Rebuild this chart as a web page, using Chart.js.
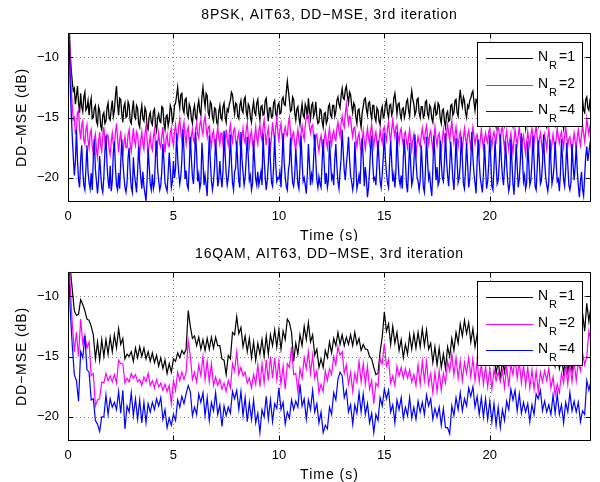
<!DOCTYPE html>
<html><head><meta charset="utf-8">
<script src="https://cdn.jsdelivr.net/npm/chart.js@4.4.0/dist/chart.umd.min.js"></script>
<style>
html,body{margin:0;padding:0;background:#fff;}
#wrap{position:relative;width:600px;height:482px;overflow:hidden;}
canvas{position:absolute;left:0;}
</style></head><body>
<div id="wrap">
<canvas id="c1" width="600" height="241" style="top:0;width:600px;height:241px"></canvas>
<canvas id="c2" width="600" height="241" style="top:241px;width:600px;height:241px"></canvas>
</div>
<script>
// ---- data ----
const DT_PSK = 0.05;                  // sample spacing of the 8PSK traces (s)
const DT_QAM = 0.1;                   // sample spacing of the 16QAM traces (s)
const xTicks = [0, 5, 10, 15, 20];
const yTicks = [-20, -15, -10];
const legendLabels = ['1', '2', '4'];
const titles = ['8PSK, AIT63, DD\u2212MSE, 3rd iteration', '16QAM, AIT63, DD\u2212MSE, 3rd iteration'];
const xLabel = 'Time (s)';
const yLabel = 'DD\u2212MSE (dB)';

const psk_nr1 = [
-5,-7,-9.5,-11,-12.0,-12.8,-12.6,-13.9,-13.2,-12.4,-13.8,-14.6,-13.0,-14.1,-14.5,-13.3,-12.9,-14.4,-14.2,-13.6,
-14.8,-13.9,-13.4,-15.1,-15.0,-14.2,-14.0,-15.3,-15.6,-14.1,-14.4,-15.7,-16.0,-14.8,-14.6,-15.5,-15.3,-14.2,-13.8,-15.0,
-15.2,-14.3,-13.6,-14.9,-14.4,-13.2,-12.4,-13.9,-14.8,-13.4,-13.5,-14.7,-15.4,-14.1,-13.8,-15.0,-14.9,-13.7,-14.0,-15.3,
-15.5,-14.4,-13.6,-14.9,-15.1,-14.0,-14.2,-15.5,-15.8,-14.6,-14.0,-15.1,-15.3,-14.2,-14.5,-15.8,-16.0,-14.9,-14.6,-15.4,
-15.6,-14.5,-14.3,-15.6,-16.1,-15.0,-14.7,-15.3,-15.4,-14.1,-14.2,-15.5,-16.0,-14.9,-14.8,-15.7,-15.2,-14.0,-14.3,-15.4,
-15.1,-14.0,-13.8,-13.2,-12.5,-13.6,-14.2,-13.1,-13.0,-14.3,-14.6,-13.5,-13.4,-14.7,-15.0,-13.9,-14.2,-15.1,-15.5,-14.4,
-14.0,-15.0,-15.2,-14.1,-13.6,-14.5,-14.8,-13.3,-12.5,-13.4,-14.1,-13.0,-13.2,-14.6,-14.9,-13.7,-13.9,-15.0,-15.3,-14.2,
-14.3,-15.4,-15.6,-14.5,-14.0,-15.0,-15.2,-14.1,-13.8,-14.9,-15.4,-14.3,-14.5,-13.9,-13.6,-12.9,-13.1,-14.0,-14.7,-13.8,
-13.9,-14.9,-15.1,-14.0,-13.6,-14.4,-14.6,-13.5,-13.3,-14.5,-15.0,-13.9,-14.1,-15.0,-15.4,-14.3,-13.7,-14.6,-14.8,-13.8,
-13.5,-14.6,-15.2,-14.1,-14.0,-14.8,-14.7,-13.6,-13.4,-14.5,-15.3,-14.2,-14.2,-15.0,-14.9,-13.8,-13.6,-14.7,-15.0,-14.0,
-13.8,-14.7,-14.6,-13.5,-13.3,-13.9,-14.0,-12.9,-12.0,-12.8,-13.6,-14.5,-14.4,-13.3,-13.5,-14.6,-15.2,-14.3,-14.1,-15.0,
-15.6,-14.6,-13.9,-14.8,-15.0,-13.9,-14.2,-15.1,-13.4,-14.4,-15.1,-14.0,-13.8,-14.9,-14.6,-13.7,-14.9,-15.5,-15.4,-14.3,
-14.4,-15.3,-15.8,-14.7,-14.6,-15.5,-15.2,-14.1,-13.9,-14.8,-15.0,-14.0,-14.0,-14.9,-14.5,-13.6,-13.3,-13.9,-14.2,-13.2,
-12.6,-13.4,-13.5,-12.7,-12.4,-13.2,-13.8,-12.9,-13.1,-14.0,-14.6,-13.8,-14.0,-15.0,-15.5,-14.4,-14.3,-15.2,-15.8,-14.6,
-14.1,-13.5,-13.4,-14.3,-14.8,-13.8,-13.7,-14.6,-15.1,-14.0,-14.0,-15.0,-15.3,-14.2,-14.4,-15.3,-15.6,-14.5,-14.1,-15.0,
-14.8,-13.9,-13.6,-14.6,-15.0,-14.0,-13.9,-14.8,-14.5,-13.4,-13.0,-13.8,-14.7,-13.9,-13.8,-14.7,-15.1,-14.3,-14.2,-15.0,
-14.6,-13.7,-13.5,-14.4,-14.9,-13.6,-12.8,-13.5,-13.9,-14.8,-14.5,-13.5,-13.4,-14.6,-15.0,-14.1,-14.1,-15.0,-14.8,-13.7,
-13.6,-14.7,-15.0,-14.0,-14.2,-15.1,-15.4,-14.3,-13.9,-14.8,-14.7,-13.8,-14.0,-15.1,-15.5,-14.4,-14.3,-15.3,-15.8,-14.7,
-14.5,-15.3,-15.2,-14.0,-13.9,-14.8,-14.6,-13.6,-13.5,-14.6,-14.9,-13.6,-12.7,-13.6,-14.1,-13.3,-13.6,-14.6,-15.0,-14.0,
-14.2,-13.6,-13.4,-13.0,-12.8,-13.7,-14.4,-13.5,-13.6,-14.6,-15.1,-14.1,-14.0,-15.0,-15.4,-14.3,-14.3,-15.2,-15.0,-14.0,
-14.1,-15.1,-15.5,-14.5,-14.4,-15.4,-15.8,-14.7,-14.6,-15.5,-15.2,-14.1,-14.0,-15.0,-15.6,-14.6,-14.5,-15.4,-15.3,-14.2,
-14.2,-15.2,-15.7,-14.7,-14.8,-15.6,-15.4,-14.3,-14.1,-15.0,-15.0,-13.9,-14.3,-15.2,-15.9,-14.8,-14.6,-15.5,-15.2,-14.1,
-14.0,-14.9,-15.3,-14.3,-14.4,-15.4,-15.7,-14.6,-14.2,-15.0,-15.1,-14.0,-14.5,-15.5,-15.8,-14.7,-14.7,-15.6,-15.4,-14.3,
-14.3,-15.2,-15.6,-14.5,-14.1,-15.0,-15.2,-14.1,-14.4,-15.3,-15.9,-14.8,-14.6,-15.4,-15.3,-14.2,-14.2,-15.1,-15.5,-14.4,
-14.4,-15.3,-15.2,-14.1,-13.9,-14.7,-14.8,-13.7,-13.5,-14.4,-14.6,-13.5,-13.3,-14.2,-14.4,-13.6,-13.8];

const psk_nr2 = [
-5,-7.5,-10.5,-12.5,-14.0,-15.2,-15.0,-16.3,-16.2,-14.6,-14.4,-16.0,-16.8,-15.6,-15.3,-16.9,-17.2,-16.0,-15.6,-16.9,
-17.5,-16.3,-16.0,-17.4,-18.0,-16.8,-16.4,-17.7,-18.3,-17.0,-16.2,-17.3,-17.8,-16.5,-15.8,-17.0,-17.6,-16.4,-16.5,-17.6,
-18.1,-17.0,-16.3,-17.2,-17.4,-16.2,-15.5,-16.7,-17.9,-16.9,-16.1,-17.3,-18.2,-17.1,-16.6,-17.5,-17.5,-16.4,-16.0,-17.2,
-17.8,-16.8,-15.9,-16.9,-17.3,-16.2,-16.4,-17.5,-18.0,-16.9,-16.2,-17.1,-17.6,-16.4,-15.7,-16.8,-18.1,-17.2,-16.5,-17.4,
-17.7,-16.6,-16.0,-17.3,-18.2,-17.1,-16.3,-17.2,-17.5,-16.5,-15.8,-17.0,-17.9,-16.8,-16.4,-17.3,-17.4,-16.3,-15.9,-16.9,
-17.3,-16.2,-15.6,-16.5,-16.8,-15.7,-15.1,-16.2,-16.9,-15.9,-15.4,-16.5,-17.2,-16.1,-15.8,-16.9,-17.5,-16.5,-16.0,-16.9,
-17.1,-16.0,-15.5,-16.4,-16.7,-15.6,-15.2,-16.0,-16.4,-15.3,-14.9,-15.9,-16.6,-15.8,-15.7,-16.8,-17.4,-16.4,-16.1,-17.0,
-17.6,-16.5,-15.8,-16.7,-17.2,-16.3,-16.3,-17.3,-17.9,-16.9,-16.0,-16.9,-17.3,-16.2,-15.6,-16.5,-17.0,-16.1,-15.9,-16.9,
-17.5,-16.6,-16.2,-17.2,-17.8,-16.7,-15.9,-16.8,-17.1,-16.0,-15.5,-16.6,-17.4,-16.5,-16.1,-17.1,-17.7,-16.6,-15.8,-16.7,
-17.2,-16.1,-15.6,-16.5,-16.9,-15.8,-15.2,-16.4,-17.3,-16.4,-15.9,-16.9,-17.6,-16.5,-15.4,-16.3,-16.8,-15.8,-15.1,-16.2,
-16.9,-16.0,-15.5,-16.6,-17.2,-16.2,-15.8,-16.4,-16.5,-15.5,-15.0,-16.2,-17.1,-16.4,-16.2,-17.2,-17.7,-16.7,-16.0,-16.9,
-17.4,-16.3,-15.7,-16.4,-16.8,-15.7,-15.0,-14.8,-14.9,-15.8,-16.3,-15.7,-15.6,-16.6,-17.2,-16.5,-16.4,-17.3,-17.8,-16.9,
-16.5,-17.4,-17.9,-16.8,-16.2,-17.0,-17.5,-16.5,-15.9,-16.8,-17.3,-16.4,-16.1,-16.7,-16.9,-15.9,-15.4,-16.1,-16.6,-15.5,
-14.9,-15.5,-15.8,-14.7,-13.9,-14.8,-15.5,-14.9,-15.0,-16.0,-16.6,-15.9,-15.8,-16.8,-17.4,-16.6,-16.3,-17.2,-17.9,-16.9,
-16.1,-17.0,-17.6,-16.6,-15.9,-16.7,-17.2,-16.1,-15.6,-16.6,-17.4,-16.6,-16.2,-17.1,-17.8,-16.9,-16.0,-16.7,-17.1,-16.0,
-15.8,-16.5,-16.9,-15.9,-15.4,-16.4,-17.0,-16.0,-15.2,-16.0,-16.6,-15.8,-15.6,-16.5,-17.1,-16.2,-15.9,-16.8,-17.3,-16.4,
-16.2,-17.0,-17.5,-16.6,-16.0,-16.9,-17.7,-16.9,-16.4,-17.3,-18.1,-17.2,-16.6,-17.1,-17.4,-16.5,-15.9,-16.6,-17.0,-16.1,
-15.7,-16.6,-17.2,-16.4,-16.1,-17.0,-17.6,-16.6,-15.8,-16.7,-17.3,-16.5,-16.3,-17.1,-17.8,-16.8,-16.0,-16.7,-17.2,-16.2,
-15.6,-16.3,-16.9,-16.0,-15.3,-16.3,-17.1,-16.4,-15.8,-16.7,-17.4,-16.6,-16.2,-17.0,-17.6,-16.7,-15.9,-16.7,-17.3,-16.5,
-16.1,-16.9,-17.5,-16.5,-15.8,-16.6,-17.2,-16.6,-16.4,-17.2,-17.8,-16.8,-16.0,-16.9,-17.6,-16.8,-16.3,-16.8,-17.1,-16.2,
-15.9,-16.7,-17.4,-16.6,-16.2,-16.7,-17.0,-16.1,-15.7,-16.4,-16.9,-16.0,-15.8,-16.8,-17.5,-16.7,-16.1,-17.0,-17.7,-16.8,
-16.3,-17.2,-17.9,-16.9,-16.0,-16.8,-17.3,-16.4,-15.8,-16.8,-17.6,-16.9,-16.5,-17.3,-18.0,-17.0,-16.2,-16.9,-17.4,-16.5,
-15.9,-16.6,-17.2,-16.3,-15.7,-16.7,-17.5,-16.8,-16.3,-17.1,-17.8,-17.0,-16.4,-17.0,-17.6,-16.7,-16.0,-17.0,-17.9,-17.1,
-16.4,-17.1,-17.7,-16.7,-15.9,-16.6,-17.1,-16.5,-16.2,-16.9,-17.5,-16.6,-15.8,-16.6,-17.3,-16.8,-16.6,-17.3,-17.9,-17.0,
-16.3,-17.0,-17.5,-16.6,-16.0,-16.8,-17.3,-16.4,-15.6,-16.3,-17.0,-16.2,-15.1,-15.8,-16.4,-15.7,-15.5];

const psk_nr4 = [
-5,-8,-12.0,-14.5,-16.5,-18.2,-19.8,-18.7,-16.0,-18.5,-20.2,-20.8,-18.5,-17.3,-19.4,-20.6,-21.0,-19.2,-17.3,-19.5,
-20.4,-20.9,-19.6,-21.0,-18.4,-16.8,-19.3,-20.3,-21.3,-20.1,-18.2,-19.6,-20.8,-21.2,-19.9,-17.8,-16.5,-18.9,-20.2,-20.9,
-19.0,-21.1,-20.3,-17.9,-17.0,-19.2,-20.6,-21.0,-19.6,-20.9,-18.8,-16.8,-18.6,-19.8,-20.8,-21.2,-20.4,-18.3,-17.5,-19.6,
-20.8,-21.2,-18.3,-19.7,-20.4,-21.2,-19.5,-17.4,-18.8,-20.0,-20.9,-19.5,-20.7,-21.3,-21.9,-20.2,-17.6,-19.0,-20.5,-21.0,
-19.7,-20.9,-20.4,-18.0,-16.9,-19.3,-20.2,-21.0,-20.6,-19.4,-17.2,-18.6,-20.4,-20.8,-21.1,-19.6,-17.9,-19.2,-20.8,-20.3,
-18.6,-20.0,-19.2,-16.3,-18.3,-19.6,-20.5,-19.8,-18.5,-16.0,-17.8,-20.1,-19.4,-20.6,-20.9,-19.0,-16.6,-18.4,-19.9,-20.5,
-18.7,-16.2,-18.1,-20.3,-19.7,-20.9,-20.4,-17.1,-18.5,-20.6,-19.8,-20.6,-21.5,-18.9,-16.5,-18.6,-20.2,-21.0,-20.3,-19.1,
-16.8,-18.4,-20.7,-20.1,-18.6,-19.9,-20.8,-19.4,-16.1,-18.0,-19.7,-20.6,-20.0,-18.8,-16.4,-18.7,-20.4,-21.0,-19.5,-19.2,
-17.0,-18.8,-20.3,-20.8,-16.2,-18.5,-19.5,-20.6,-20.0,-18.4,-16.6,-18.3,-20.2,-19.8,-21.0,-20.5,-16.9,-18.6,-20.1,-20.6,
-19.5,-20.6,-20.1,-19.5,-20.6,-16.3,-18.4,-19.9,-21.0,-20.2,-18.8,-16.7,-18.7,-20.4,-20.7,-19.1,-16.5,-18.9,-20.3,-20.0,
-20.1,-19.5,-20.8,-18.6,-16.3,-18.7,-19.9,-20.7,-21.0,-19.4,-18.8,-16.7,-18.9,-20.4,-20.7,-19.8,-17.6,-19.0,-20.5,-20.9,
-19.1,-16.5,-18.6,-20.3,-20.0,-20.6,-21.3,-19.6,-17.2,-18.8,-20.6,-19.7,-20.2,-18.3,-16.4,-18.5,-20.2,-20.8,-19.9,-20.5,
-20.8,-18.7,-16.8,-18.9,-20.5,-19.6,-20.8,-20.2,-16.9,-18.6,-20.1,-19.8,-20.6,-18.5,-17.2,-19.0,-20.3,-20.9,-19.5,-18.4,
-16.0,-17.8,-19.4,-20.2,-18.9,-17.9,-16.6,-18.4,-19.8,-20.3,-21.0,-20.4,-17.0,-18.9,-20.9,-20.4,-19.8,-20.5,-18.2,-16.7,
-18.5,-20.7,-19.1,-20.1,-21.6,-20.8,-19.4,-17.5,-16.5,-18.8,-20.2,-20.0,-20.6,-18.8,-16.9,-18.6,-20.3,-20.8,-19.7,-18.3,
-16.3,-18.4,-19.6,-20.4,-20.8,-18.6,-16.9,-18.7,-20.3,-19.7,-20.8,-19.4,-16.2,-18.5,-20.1,-20.6,-19.8,-20.9,-18.4,-16.8,
-18.6,-20.5,-21.2,-19.3,-17.1,-18.9,-20.6,-20.2,-18.9,-16.4,-18.5,-19.9,-20.3,-21.0,-20.2,-17.3,-18.9,-20.8,-21.2,-19.4,
-16.6,-18.6,-20.1,-19.7,-20.8,-21.5,-19.3,-16.5,-18.3,-20.2,-19.1,-20.6,-20.3,-16.9,-18.7,-20.0,-20.3,-18.7,-16.3,-18.5,
-19.8,-20.7,-19.0,-17.0,-18.6,-20.1,-21.0,-19.2,-16.7,-18.6,-20.4,-20.0,-18.9,-16.6,-18.4,-20.5,-20.9,-19.3,-17.1,-18.9,
-20.8,-20.1,-18.6,-16.2,-18.3,-19.6,-20.4,-21.3,-18.7,-16.8,-18.7,-20.0,-20.6,-21.2,-19.6,-17.2,-19.1,-20.9,-20.3,-18.9,
-16.5,-18.6,-20.7,-21.0,-19.2,-16.9,-18.8,-20.5,-20.2,-18.8,-16.4,-18.5,-19.9,-20.6,-19.0,-17.0,-18.9,-20.3,-21.1,-20.5,
-16.8,-18.7,-20.5,-21.4,-19.5,-17.2,-19.0,-20.8,-20.1,-18.6,-16.3,-18.4,-20.3,-19.8,-20.9,-20.4,-17.0,-18.8,-20.6,-20.2,
-18.7,-16.5,-18.5,-20.7,-21.0,-19.2,-16.9,-18.6,-20.5,-20.2,-18.8,-16.4,-18.6,-19.9,-20.6,-21.1,-20.3,-16.8,-18.7,-20.5,
-20.0,-19.0,-17.0,-18.8,-20.3,-20.1,-21.1,-19.6,-16.8,-18.5,-20.2,-20.7,-19.3,-17.1,-18.9,-20.6,-21.0,-20.4,-17.2,-18.9,
-20.2,-19.0,-17.3,-19.4,-20.7,-21.6,-20.3,-19.5,-21.0,-21.5,-19.8,-18.2,-17.4,-18.6,-17.9,-17.2,-17.5];

const qam_nr1 = [
-6.0,-7.6,-9.4,-11.2,-11.6,-11.5,-10.3,-10.7,-11.2,-11.9,
-12.0,-12.5,-13.2,-15.2,-13.8,-15.3,-13.6,-15.0,-13.6,-14.8,
-13.4,-14.6,-13.2,-14.3,-12.7,-14.0,-13.5,-15.2,-14.8,-15.0,
-14.6,-15.4,-14.3,-15.1,-14.2,-15.0,-14.3,-15.2,-14.6,-15.4,
-14.7,-15.5,-14.9,-15.8,-15.1,-16.0,-15.3,-16.4,-15.6,-16.3,
-15.2,-15.4,-14.7,-15.1,-14.5,-14.8,-14.4,-11.2,-12.5,-13.5,
-13.3,-14.1,-13.4,-14.4,-13.6,-14.5,-13.5,-14.4,-13.4,-14.3,
-13.4,-14.1,-14.1,-15.2,-15.3,-16.5,-14.9,-15.2,-13.0,-13.2,
-11.7,-13.1,-12.6,-14.2,-13.3,-14.6,-13.5,-15.1,-13.8,-15.3,
-13.9,-14.8,-13.6,-15.0,-13.3,-14.8,-13.2,-14.1,-12.8,-14.2,
-12.8,-14.4,-12.9,-13.6,-11.9,-12.2,-13.0,-15.4,-13.9,-14.8,
-13.2,-14.1,-12.5,-13.6,-12.2,-13.8,-13.2,-14.9,-14.4,-15.9,
-15.2,-15.9,-14.5,-15.1,-13.8,-14.7,-13.5,-14.1,-13.0,-14.0,
-13.2,-14.1,-13.4,-14.0,-13.2,-14.1,-13.0,-14.0,-13.5,-14.5,
-14.0,-14.4,-14.4,-15.0,-15.2,-15.9,-16.5,-16.4,-14.6,-13.4,
-11.3,-12.9,-12.3,-14.0,-12.5,-13.9,-13.0,-14.5,-13.6,-15.1,
-14.0,-14.8,-13.2,-14.4,-13.1,-14.3,-13.0,-14.2,-12.7,-14.1,
-12.8,-14.4,-13.9,-15.5,-14.2,-15.7,-14.3,-15.9,-14.8,-16.0,
-14.2,-15.0,-13.5,-14.5,-13.0,-13.9,-12.3,-13.3,-12.0,-13.1,
-12.2,-13.8,-12.7,-14.2,-13.2,-14.7,-13.7,-14.9,-14.0,-15.4,
-14.4,-15.5,-14.8,-16.4,-15.4,-16.8,-15.4,-16.3,-14.6,-15.6,
-14.2,-15.1,-14.0,-15.0,-13.9,-14.9,-13.8,-15.1,-13.8,-15.3,
-13.8,-15.2,-13.7,-15.3,-14.0,-15.4,-13.9,-15.3,-14.4,-15.1,
-14.5,-15.8,-14.8,-16.0,-15.0,-16.4,-15.1,-16.3,-14.9,-16.2,
-14.5,-15.1,-13.2,-13.5,-11.4,-12.9,-10.6,-12.1,-10.8];

const qam_nr2 = [
-6.0,-9.0,-12.2,-14.6,-13.0,-15.0,-11.9,-13.9,-13.2,-14.3,
-13.8,-16.6,-16.4,-19.1,-18.6,-18.5,-17.1,-17.2,-16.4,-17.0,
-16.6,-17.1,-16.5,-17.2,-15.3,-15.6,-15.6,-17.2,-16.8,-17.1,
-16.4,-16.8,-16.5,-17.1,-16.9,-17.4,-16.7,-17.1,-16.4,-17.4,
-17.0,-17.6,-16.9,-17.5,-17.2,-17.8,-17.3,-17.9,-17.4,-18.9,
-17.0,-17.8,-16.3,-17.0,-16.3,-16.9,-16.3,-13.7,-15.0,-16.9,
-16.3,-17.1,-15.7,-16.6,-15.0,-16.9,-15.4,-17.1,-15.6,-17.4,
-16.7,-17.4,-16.9,-17.7,-17.2,-17.9,-17.0,-17.6,-15.6,-16.2,
-14.6,-16.5,-15.9,-16.6,-16.3,-17.2,-16.8,-17.6,-16.5,-17.3,
-15.7,-17.5,-15.6,-17.2,-15.3,-17.0,-15.0,-16.8,-15.1,-16.9,
-15.4,-17.3,-15.8,-17.7,-15.6,-15.9,-14.2,-16.5,-16.4,-17.9,
-16.0,-16.8,-15.1,-16.0,-14.6,-16.4,-14.9,-16.8,-16.2,-18.0,
-17.3,-17.9,-16.2,-17.0,-16.0,-16.5,-15.0,-15.7,-14.2,-14.9,
-14.6,-16.4,-15.7,-17.3,-16.3,-17.9,-16.4,-17.1,-15.4,-17.1,
-15.6,-17.3,-15.8,-17.7,-17.0,-18.9,-17.2,-17.5,-15.2,-15.6,
-13.9,-15.8,-15.3,-17.2,-16.6,-17.4,-15.8,-16.6,-15.9,-16.8,
-16.0,-16.8,-16.1,-17.1,-16.5,-17.4,-15.7,-17.3,-15.4,-17.0,
-15.4,-17.3,-16.4,-18.0,-16.3,-17.9,-16.2,-17.8,-16.4,-17.2,
-15.4,-16.2,-14.8,-16.5,-15.1,-16.8,-15.4,-17.0,-15.5,-16.4,
-15.1,-16.7,-15.2,-17.0,-15.4,-17.1,-15.6,-17.3,-15.8,-17.5,
-16.0,-17.7,-16.1,-17.0,-16.3,-17.1,-16.2,-17.6,-15.8,-17.5,
-15.7,-16.5,-15.1,-16.8,-15.4,-17.2,-15.7,-17.4,-15.9,-17.6,
-16.1,-17.7,-16.2,-17.9,-16.3,-17.1,-16.2,-17.0,-16.0,-17.6,
-16.7,-18.2,-17.3,-18.0,-16.4,-17.2,-15.7,-17.3,-15.6,-17.1,
-15.4,-17.0,-15.4,-16.2,-14.7,-15.7,-15.0,-12.9,-13.8];

const qam_nr4 = [
-6.0,-11.0,-14.0,-16.5,-17.0,-18.7,-14.6,-15.1,-13.3,-16.1,
-16.3,-18.6,-18.5,-20.3,-20.6,-21.2,-20.0,-20.0,-18.2,-19.8,
-18.5,-19.2,-18.8,-19.4,-17.9,-19.7,-17.8,-21.0,-19.1,-19.6,
-18.0,-19.9,-18.5,-20.2,-18.6,-20.5,-18.8,-20.5,-18.9,-19.6,
-18.8,-19.4,-18.5,-19.1,-18.4,-20.2,-19.4,-20.9,-20.1,-20.7,
-19.8,-20.3,-18.6,-19.2,-18.3,-18.9,-18.1,-17.4,-17.9,-19.9,
-19.2,-19.8,-18.1,-18.8,-18.0,-19.9,-18.4,-20.3,-18.8,-19.5,
-18.0,-19.8,-19.0,-20.8,-19.1,-19.9,-19.2,-19.7,-17.9,-18.5,
-17.8,-19.4,-17.9,-19.9,-18.4,-20.4,-18.8,-20.2,-18.6,-20.5,
-19.7,-21.3,-19.4,-20.0,-18.3,-20.2,-18.6,-20.4,-18.9,-19.3,
-17.6,-19.4,-18.8,-20.6,-19.6,-20.1,-18.6,-19.4,-18.7,-19.2,
-17.3,-19.1,-18.5,-20.2,-18.6,-19.4,-17.8,-19.6,-18.9,-20.5,
-19.6,-21.3,-20.7,-21.0,-19.2,-19.8,-18.0,-18.6,-16.9,-16.3,
-16.6,-18.4,-17.8,-19.6,-19.0,-20.6,-19.0,-19.7,-18.0,-19.6,
-18.1,-19.8,-18.9,-20.5,-19.7,-21.3,-19.8,-20.3,-18.4,-19.1,
-17.7,-18.5,-17.8,-19.6,-19.0,-20.5,-18.6,-19.4,-18.4,-20.1,
-19.2,-19.9,-18.4,-20.1,-19.2,-20.2,-18.7,-19.6,-18.8,-19.8,
-18.2,-19.1,-18.5,-20.2,-19.3,-20.0,-19.2,-20.7,-19.3,-20.9,
-20.9,-21.4,-19.1,-19.9,-18.4,-19.4,-18.0,-19.5,-18.5,-19.1,
-17.6,-18.3,-17.5,-19.2,-18.3,-19.8,-18.4,-20.0,-18.5,-20.2,
-18.7,-20.4,-18.9,-20.7,-19.2,-20.9,-19.4,-20.3,-18.7,-19.4,
-17.7,-18.6,-17.8,-19.5,-18.1,-19.7,-18.8,-19.6,-18.9,-20.4,
-19.0,-19.8,-18.1,-18.5,-17.8,-19.5,-18.7,-19.6,-19.0,-19.8,
-18.2,-19.7,-18.1,-19.8,-19.0,-20.5,-18.8,-19.6,-18.0,-19.5,
-18.7,-19.6,-18.8,-20.4,-19.5,-19.8,-17.0,-17.8,-17.0];

const colors = ['#000000', '#ff00ff', '#0000ff'];

// ---- rendering ----
const FONT = '"Liberation Sans", Arial, Helvetica, sans-serif';
const fmtNeg = v => String(v).replace('-', '\u2212');
const toPoints = (arr, dt) => arr.map((v, k) => ({x: Math.round(k * dt * 100) / 100, y: v}));

function spaced(ctx, text, x, y, spacing) {
  ctx.letterSpacing = spacing + 'px';
  const w = ctx.measureText(text).width;
  ctx.textAlign = 'left';
  ctx.fillText(text, x - w / 2, y);
  ctx.letterSpacing = '0px';
}

function makeChart(canvasId, seriesList, dt, lineW, title, areaTop, areaBottom) {
  const H = 241;
  const matlab = {
    id: 'matlab',
    beforeDatasetsDraw(chart) {
      const {ctx, chartArea: a, scales: {x, y}} = chart;
      ctx.save();
      ctx.strokeStyle = 'rgba(0,0,0,0.5)';
      ctx.lineWidth = 1;
      ctx.setLineDash([1, 3]);
      xTicks.forEach(v => {
        const px = Math.round(x.getPixelForValue(v)) + 0.5;
        ctx.beginPath(); ctx.moveTo(px, a.top); ctx.lineTo(px, a.bottom); ctx.stroke();
      });
      yTicks.forEach(v => {
        const py = Math.round(y.getPixelForValue(v)) + 0.5;
        ctx.beginPath(); ctx.moveTo(a.left, py); ctx.lineTo(a.right, py); ctx.stroke();
      });
      ctx.restore();
    },
    afterDraw(chart) {
      const {ctx, chartArea: a, scales: {x, y}} = chart;
      ctx.save();
      ctx.strokeStyle = '#000';
      ctx.lineWidth = 1;
      ctx.setLineDash([]);
      const L = Math.round(a.left) + 0.5, R = Math.round(a.right) - 0.5;
      const T = Math.round(a.top) + 0.5, B = Math.round(a.bottom) - 0.5;
      ctx.strokeRect(L, T, R - L, B - T);
      xTicks.forEach(v => {
        const px = Math.round(x.getPixelForValue(v)) + 0.5;
        ctx.beginPath(); ctx.moveTo(px, B); ctx.lineTo(px, B - 5);
        ctx.moveTo(px, T); ctx.lineTo(px, T + 5); ctx.stroke();
      });
      yTicks.forEach(v => {
        const py = Math.round(y.getPixelForValue(v)) + 0.5;
        ctx.beginPath(); ctx.moveTo(L, py); ctx.lineTo(L + 5, py);
        ctx.moveTo(R, py); ctx.lineTo(R - 5, py); ctx.stroke();
      });
      // title & axis labels
      ctx.fillStyle = '#000';
      ctx.font = '14px ' + FONT;
      ctx.textBaseline = 'middle';
      const cx = (a.left + a.right) / 2;
      spaced(ctx, title, cx, a.top - 18, 0.8);
      spaced(ctx, xLabel, cx, a.bottom + 34, 1.0);
      ctx.save();
      ctx.translate(22, (a.top + a.bottom) / 2);
      ctx.rotate(-Math.PI / 2);
      spaced(ctx, yLabel, 0, 0, 0.9);
      ctx.restore();
      // legend
      const bx = 477, by = Math.round(a.top) + 9, bw = 106, bh = 85;
      ctx.fillStyle = '#fff';
      ctx.fillRect(bx, by, bw, bh);
      ctx.strokeStyle = '#000';
      ctx.strokeRect(bx + 0.5, by + 0.5, bw - 1, bh - 1);
      legendLabels.forEach((lab, i) => {
        const ly = Math.round(by + 16 + i * 26.5) + 0.5;
        ctx.strokeStyle = colors[i];
        ctx.lineWidth = 1;
        ctx.beginPath(); ctx.moveTo(bx + 9, ly); ctx.lineTo(bx + 56, ly); ctx.stroke();
        ctx.fillStyle = '#000';
        ctx.textAlign = 'left';
        ctx.textBaseline = 'alphabetic';
        ctx.font = '14px ' + FONT;
        ctx.fillText('N', bx + 61, ly + 2);
        ctx.font = '11px ' + FONT;
        ctx.fillText('R', bx + 72, ly + 10.5);
        ctx.font = '14px ' + FONT;
        ctx.fillText('=' + lab, bx + 82, ly + 2);
      });
      ctx.restore();
    }
  };
  const order = [3, 2, 1];
  return new Chart(document.getElementById(canvasId), {
    type: 'line',
    data: {
      datasets: seriesList.map((s, i) => ({
        data: toPoints(s, dt),
        borderColor: colors[i],
        borderWidth: lineW,
        pointRadius: 0,
        tension: 0,
        order: order[i]
      }))
    },
    options: {
      responsive: false,
      animation: false,
      devicePixelRatio: 1,
      layout: {padding: {top: areaTop, left: 0, right: 9, bottom: 0}},
      plugins: {legend: {display: false}, tooltip: {enabled: false}, title: {display: false}},
      scales: {
        x: {
          type: 'linear', min: 0, max: 24.8,
          afterBuildTicks: s => { s.ticks = xTicks.map(v => ({value: v})); },
          afterFit: s => { s.height = H - areaBottom; },
          grid: {display: false, drawTicks: false, tickLength: 0},
          border: {display: false},
          ticks: {color: '#000', font: {family: FONT, size: 13}, padding: 7, maxRotation: 0,
                  callback: v => fmtNeg(v)}
        },
        y: {
          type: 'linear', min: -22, max: -8,
          afterBuildTicks: s => { s.ticks = yTicks.map(v => ({value: v})); },
          afterFit: s => { s.width = 68; },
          grid: {display: false, drawTicks: false, tickLength: 0},
          border: {display: false},
          ticks: {color: '#000', font: {family: FONT, size: 13}, padding: 9,
                  callback: v => fmtNeg(v)}
        }
      }
    },
    plugins: [matlab]
  });
}

makeChart('c1', [psk_nr1, psk_nr2, psk_nr4], DT_PSK, 1.3, titles[0], 33, 202);
makeChart('c2', [qam_nr1, qam_nr2, qam_nr4], DT_QAM, 1.2, titles[1], 31, 200);
</script>
</body></html>
